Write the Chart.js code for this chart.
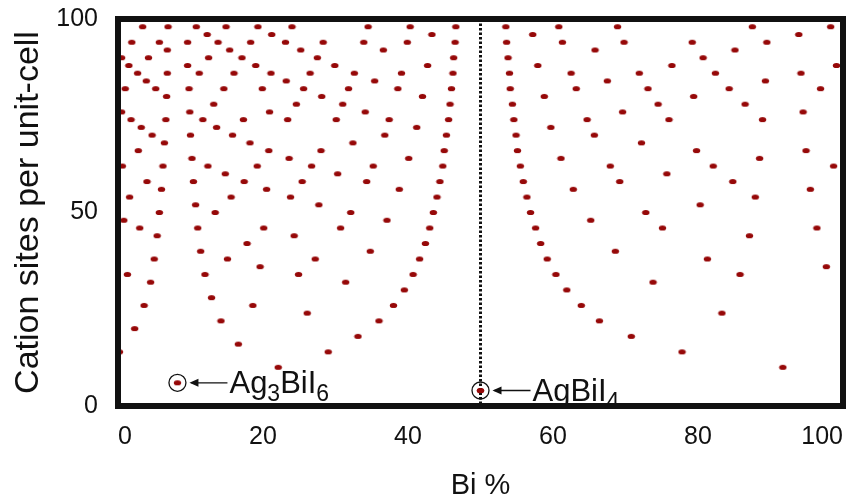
<!DOCTYPE html>
<html lang="en">
<head>
    <meta charset="UTF-8">
    <title>Cation sites per unit-cell vs Bi %</title>
    <script src="https://cdn.jsdelivr.net/npm/chart.js"></script>
    <style>
        body {
            margin: 0;
            background: #fff;
        }
        canvas {
            display: block;
        }
    </style>
</head>
<body>
    <canvas id="sitesChart" width="859" height="500"></canvas>
    <script>
        // one row per number of cation sites, Bi % of every allowed composition in that row
        const cationSites = [98, 96, 94, 92, 90, 88, 86, 84, 82, 80, 78, 76, 74, 72, 70, 68,
            66, 64, 62, 60, 58, 56, 54, 52, 50, 48, 46, 44, 42, 40, 38, 36,
            34, 32, 30, 28, 26, 24, 22, 20, 18, 16, 14, 12, 10, 8, 6, 4];
        const biPercent = [
            [3.4, 6.9, 10.8, 14.9, 19.3, 24.0, 34.5, 40.3, 46.6, 53.5, 60.8, 68.9, 87.5, 98.3],
            [12.3, 21.2, 43.3, 57.2, 93.9],
            [1.9, 5.7, 9.6, 13.8, 18.3, 23.1, 28.3, 33.9, 39.9, 46.5, 53.6, 61.3, 69.8, 79.2, 89.5],
            [6.8, 15.4, 25.2, 36.6, 65.8, 85.1],
            [0.5, 4.2, 12.5, 17.1, 27.5, 46.3, 53.8, 80.7],
            [1.5, 9.6, 19.0, 29.9, 42.7, 57.9, 76.4, 99.1],
            [2.7, 6.8, 11.2, 16.0, 21.1, 26.5, 32.6, 39.1, 46.2, 54.0, 62.5, 71.9, 82.4, 94.2],
            [3.9, 23.2, 35.4, 67.5, 89.3],
            [1.0, 5.2, 9.8, 14.6, 19.9, 25.6, 31.8, 38.6, 46.0, 54.1, 63.2, 73.1, 84.3, 96.9],
            [6.7, 28.1, 42.0, 58.8, 79.4],
            [13.2, 24.6, 31.0, 45.8, 54.4, 74.5, 86.5],
            [0.5, 9.9, 20.9, 34.1, 69.6, 94.5],
            [1.8, 6.6, 11.7, 17.3, 23.4, 30.1, 37.4, 45.6, 54.6, 64.7, 76.0, 88.9],
            [3.2, 13.6, 41.2, 59.7],
            [4.7, 10.0, 15.8, 36.8, 45.3, 54.9, 65.7],
            [6.4, 18.2, 32.4, 72.2],
            [2.8, 20.8, 28.0, 45.0, 55.1, 79.8, 94.9],
            [10.2, 23.6, 40.1, 61.1, 88.5],
            [0.6, 6.2, 12.4, 19.2, 26.7, 35.2, 44.8, 55.5, 67.9, 82.1, 98.7],
            [14.8, 30.3, 75.7],
            [4.0, 10.4, 17.4, 25.4, 34.3, 44.4, 55.9, 69.2, 84.8],
            [6.0, 20.5, 38.8, 62.8, 95.5],
            [1.6, 15.6, 23.8, 44.0, 56.4, 87.9],
            [10.7, 27.7, 80.3],
            [5.7, 13.4, 32.1, 43.5, 56.9, 72.8],
            [0.8, 37.1, 65.2],
            [3.0, 11.0, 20.1, 30.7, 43.0, 57.6, 75.1, 96.4],
            [5.4, 24.3, 87.1],
            [17.8, 42.4, 58.3],
            [11.4, 34.8, 68.6],
            [5.0, 15.1, 27.2, 41.6, 59.2, 81.3],
            [19.6, 97.7],
            [1.3, 12.0, 24.9, 40.7, 60.4, 85.8],
            [4.5, 31.4, 73.8],
            [39.5, 61.9],
            [12.9],
            [3.6, 18.6, 38.0, 63.9],
            [26.1, 83.3],
            [14.2, 36.0, 66.4],
            [2.3],
            [33.1, 70.8],
            [16.6],
            [0.2, 29.0, 77.8],
            [],
            [22.1, 91.7],
            [],
            [8.2],
            [50.0]
        ];

        // labelled compounds: formula parts as [text, isSubscript]
        const compoundNames = [
            [['Ag', false], ['3', true], ['BiI', false], ['6', true]],
            [['AgBiI', false], ['4', true]]
        ];
        const compoundBi = [8.2, 50.0];
        const compoundSites = [6, 4];

        const xTicks = [0, 20, 40, 60, 80, 100];
        const yTicks = [0, 50, 100];
        const markerLine = 50;

        const FONT = "'Liberation Sans', Arial, Helvetica, sans-serif";

        const points = [];
        cationSites.forEach((n, i) => {
            biPercent[i].forEach(b => points.push({ x: b, y: n }));
        });

        // small flattened dot like in the original figure
        const dot = document.createElement('canvas');
        dot.width = 9;
        dot.height = 7;
        const dctx = dot.getContext('2d');
        dctx.fillStyle = '#960808';
        dctx.beginPath();
        dctx.ellipse(4.5, 3.5, 3.7, 2.6, 0, 0, Math.PI * 2);
        dctx.fill();

        const framePlugin = {
            id: 'frame',
            afterDatasetsDraw(chart) {
                const ctx = chart.ctx;
                const a = chart.chartArea;
                const xs = chart.scales.x;
                const ys = chart.scales.y;
                ctx.save();

                // dotted line at AgBiI4 composition
                const mx = xs.getPixelForValue(markerLine);
                ctx.strokeStyle = '#111';
                ctx.lineWidth = 3;
                ctx.setLineDash([2.5, 2]);
                ctx.beginPath();
                ctx.moveTo(mx, a.top);
                ctx.lineTo(mx, a.bottom);
                ctx.stroke();
                ctx.setLineDash([]);

                // redraw the AgBiI4 dot on top of the dotted line
                const px = xs.getPixelForValue(compoundBi[1]);
                const py = ys.getPixelForValue(compoundSites[1]);
                ctx.drawImage(dot, px - 4.5, py - 3.5);

                // circles, arrows and formula labels
                compoundNames.forEach((parts, i) => {
                    const cx = xs.getPixelForValue(compoundBi[i]);
                    const cy = ys.getPixelForValue(compoundSites[i]);
                    ctx.strokeStyle = '#111';
                    ctx.lineWidth = 1.3;
                    ctx.beginPath();
                    ctx.arc(cx, cy, 8.5, 0, Math.PI * 2);
                    ctx.stroke();

                    const x0 = cx + 12;
                    const x1 = cx + 50;
                    ctx.beginPath();
                    ctx.moveTo(x1, cy);
                    ctx.lineTo(x0 + 2, cy);
                    ctx.stroke();
                    ctx.fillStyle = '#111';
                    ctx.beginPath();
                    ctx.moveTo(x0, cy);
                    ctx.lineTo(x0 + 9, cy - 4);
                    ctx.lineTo(x0 + 9, cy + 4);
                    ctx.closePath();
                    ctx.fill();

                    let tx = x1 + 2;
                    const base = cy + 10;
                    ctx.textBaseline = 'alphabetic';
                    ctx.textAlign = 'left';
                    parts.forEach(([txt, sub]) => {
                        ctx.font = (sub ? '23px ' : '31px ') + FONT;
                        ctx.fillText(txt, tx, sub ? base + 8 : base);
                        tx += ctx.measureText(txt).width;
                    });
                });

                // thick box around the plot
                ctx.strokeStyle = '#111';
                ctx.lineWidth = 6;
                ctx.strokeRect(a.left, a.top, a.right - a.left, a.bottom - a.top);
                ctx.restore();
            }
        };

        new Chart(document.getElementById('sitesChart'), {
            type: 'scatter',
            data: {
                datasets: [{
                    label: 'compositions',
                    data: points,
                    pointStyle: dot,
                    pointRadius: 3,
                    pointHoverRadius: 3
                }]
            },
            options: {
                responsive: false,
                animation: false,
                layout: {
                    padding: { top: 19, right: 16, bottom: 0, left: 0 }
                },
                plugins: {
                    legend: { display: false },
                    tooltip: { enabled: false }
                },
                scales: {
                    x: {
                        type: 'linear',
                        min: 0,
                        max: 100,
                        afterFit(s) {
                            s.height = 94;
                            s.paddingLeft = 0;
                            s.paddingRight = 0;
                        },
                        afterBuildTicks(s) { s.ticks = xTicks.map(v => ({ value: v })); },
                        grid: { display: false, drawTicks: false },
                        border: { display: false },
                        ticks: {
                            align: 'inner',
                            padding: 16,
                            color: '#111',
                            font: { family: FONT, size: 25 }
                        },
                        title: {
                            display: true,
                            text: 'Bi %',
                            color: '#111',
                            padding: { top: 0, bottom: 0 },
                            font: { family: FONT, size: 29, lineHeight: 1.0 }
                        }
                    },
                    y: {
                        type: 'linear',
                        min: 0,
                        max: 100,
                        afterFit(s) {
                            s.width = 118;
                            s.paddingTop = 0;
                            s.paddingBottom = 0;
                        },
                        afterBuildTicks(s) { s.ticks = yTicks.map(v => ({ value: v })); },
                        grid: { display: false, drawTicks: false },
                        border: { display: false },
                        ticks: {
                            padding: 20,
                            color: '#111',
                            font: { family: FONT, size: 25 }
                        },
                        title: {
                            display: true,
                            text: 'Cation sites per unit-cell',
                            color: '#111',
                            padding: { top: 8, bottom: 0 },
                            font: { family: FONT, size: 34 }
                        }
                    }
                }
            },
            plugins: [framePlugin]
        });
    </script>
</body>
</html>
